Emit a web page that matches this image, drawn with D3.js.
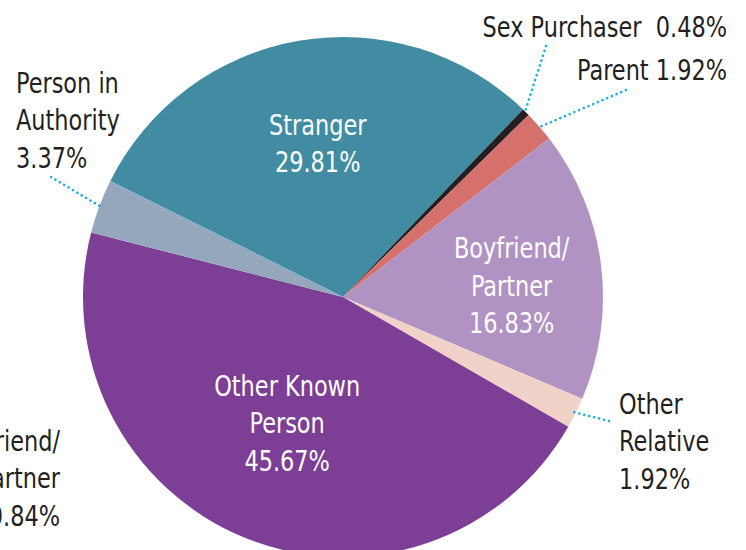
<!DOCTYPE html>
<html>
<head>
<meta charset="utf-8">
<script src="https://cdn.jsdelivr.net/npm/d3@7"></script>
<style>
  body { margin: 0; background: #fff; }
  svg text { font-family: "DejaVu Sans Condensed", "DejaVu Sans", sans-serif; font-stretch: condensed; }
</style>
</head>
<body>
<svg class="pie" width="746" height="550"></svg>
<script>
// slices, clockwise from the Stranger slice
var categories = ["Stranger", "Sex Purchaser", "Parent", "Boyfriend/Partner", "Other Relative", "Other Known Person", "Person in Authority"];
var values = [29.81, 0.48, 1.92, 16.83, 1.92, 45.67, 3.37];
var colors = ["#428ca3", "#231f20", "#d6706a", "#b092c3", "#f1d2c8", "#7d3e95", "#95a7bc"];

// label lines (text as printed)
var labelLines = [
  ["Stranger", "29.81%"],
  ["Sex Purchaser  0.48%"],
  ["Parent 1.92%"],
  ["Boyfriend/", "Partner", "16.83%"],
  ["Other", "Relative", "1.92%"],
  ["Other Known", "Person", "45.67%"],
  ["Person in", "Authority", "3.37%"]
];

// label for the slice that falls outside the crop
var offLabel = ["Ex-Boyfriend/", "Partner", "0.84%"];

var svg = d3.select(".pie"),
    width = +svg.attr("width"),
    height = +svg.attr("height");

var cx = 343, cy = 297, radius = 260;
var lineH = 37.5, fontSize = 29, squeeze = 0.86;
var start = -63.5 * Math.PI / 180;

var pie = d3.pie().sort(null).value(function(d) { return d; })
    .startAngle(start).endAngle(start + 2 * Math.PI);
var arcs = pie(values);

var arc = d3.arc().innerRadius(0).outerRadius(radius);

var g = svg.append("g").attr("transform", "translate(" + cx + "," + cy + ")");

g.selectAll("path")
  .data(arcs)
  .enter().append("path")
  .attr("d", arc)
  .style("fill", function(d, i) { return colors[i]; });

// inside labels: radius along the slice middle + nudge
var inside = {0: {r: 148, dy: -8}, 3: {r: 170, dy: 10}, 5: {r: 148, dy: -11}};
// outside labels: anchor, text position, leader end
var outside = {
  1: {anchor: "end", x: 727, y: 37, lx: 546, ly: 46},
  2: {anchor: "end", x: 727, y: 80, lx: 626, ly: 90},
  4: {anchor: "start", x: 619, y: 414, lx: 609, ly: 421},
  6: {anchor: "start", x: 16, y: 93, lx: 51, ly: 177}
};

function mid(d) { return (d.startAngle + d.endAngle) / 2; }

// narrow text block: lines stacked from (x, y) baseline
function block(parent, x, y, lines, anchor, fill) {
  parent.append("text")
    .attr("transform", "translate(" + x + "," + y + ") scale(" + squeeze + ",1)")
    .attr("text-anchor", anchor)
    .style("fill", fill)
    .style("font-size", fontSize + "px")
    .style("white-space", "pre")
    .selectAll("tspan")
    .data(lines)
    .enter().append("tspan")
    .attr("x", 0)
    .attr("y", function(t, k) { return k * lineH; })
    .text(function(t) { return t; });
}

arcs.forEach(function(d, i) {
  var lines = labelLines[i];
  if (inside[i]) {
    var a = mid(d), p = inside[i];
    var x = p.r * Math.sin(a), y = -p.r * Math.cos(a) + (p.dy || 0);
    var y0 = y - (lines.length - 1) * lineH / 2 + fontSize * 0.35;
    block(g, x, y0, lines, "middle", "#fff");
  } else {
    var o = outside[i], a2 = mid(d), rr = radius - 2;
    svg.append("line")
      .attr("x1", o.lx).attr("y1", o.ly)
      .attr("x2", cx + rr * Math.sin(a2))
      .attr("y2", cy - rr * Math.cos(a2))
      .style("stroke", "#19aee6")
      .style("stroke-width", 2.6)
      .style("stroke-linecap", "round")
      .style("stroke-dasharray", "0.1,5");
    block(svg, o.x, o.y, lines, o.anchor, "#231f20");
  }
});

block(svg, 60, 451, offLabel, "end", "#231f20");
</script>
</body>
</html>
